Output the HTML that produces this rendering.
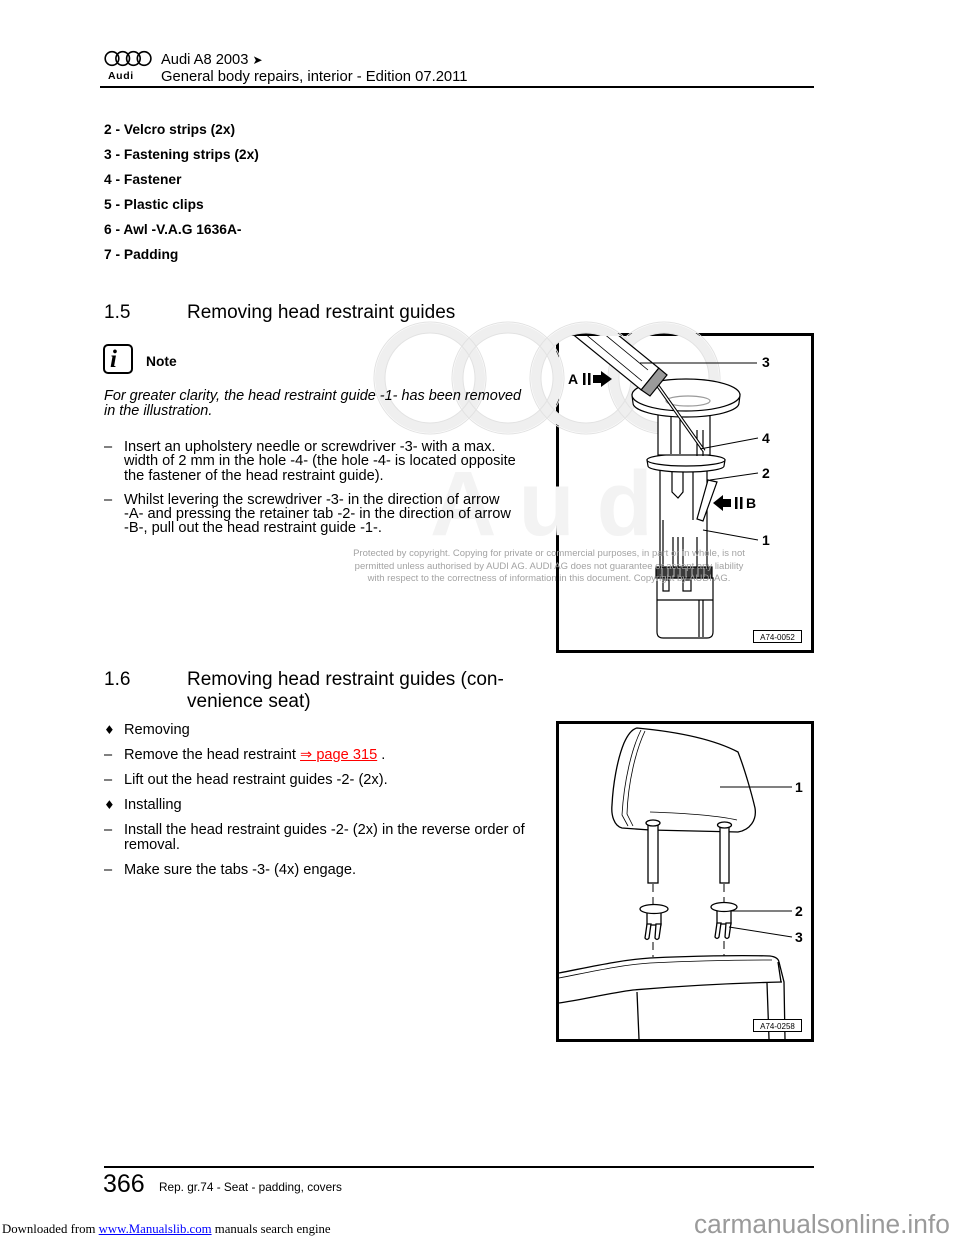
<!DOCTYPE html>
<html><head><meta charset="utf-8"><style>
html,body{margin:0;padding:0;background:#fff}
body{width:960px;height:1242px;position:relative;overflow:hidden;font-family:"Liberation Sans",Arial,sans-serif;color:#000}
.t{position:absolute;white-space:nowrap;line-height:1;font-size:14.6px}
.b{font-weight:bold}
.l{font-weight:bold;font-size:13.8px}
.h{font-size:19px}
.i{font-style:italic;font-size:14.45px}
.cp{position:absolute;left:299px;width:500px;text-align:center;white-space:nowrap;line-height:1;font-size:9.5px;color:#a3a3a3}
a{color:#f00;text-decoration:underline}
</style></head><body>

<svg width="960" height="1242" style="position:absolute;left:0;top:0" xmlns="http://www.w3.org/2000/svg">
<defs><clipPath id="c1"><rect x="559" y="336" width="252" height="314"/></clipPath></defs>
<!-- header rings -->
<g fill="none" stroke="#000" stroke-width="1.6">
<circle cx="112" cy="58.5" r="6.8"/><circle cx="122.7" cy="58.5" r="6.8"/><circle cx="133.4" cy="58.5" r="6.8"/><circle cx="144.1" cy="58.5" r="6.8"/>
</g>
<rect x="100" y="86" width="714" height="2" fill="#000"/>
<rect x="104" y="1166" width="710" height="2" fill="#000"/>

<!-- figure frames -->
<rect x="557.5" y="334.5" width="255" height="317" fill="#fff" stroke="#000" stroke-width="3"/>
<rect x="557.5" y="722.5" width="255" height="318" fill="#fff" stroke="#000" stroke-width="3"/>

<!-- watermark rings -->
<g fill="none" stroke="#efefef" stroke-width="10">
<circle cx="430" cy="378" r="50"/><circle cx="508" cy="378" r="50"/><circle cx="586" cy="378" r="50"/><circle cx="664" cy="378" r="50"/>
</g>
<g fill="none" stroke="#e2e2e2" stroke-width="1">
<circle cx="430" cy="378" r="56"/><circle cx="508" cy="378" r="56"/><circle cx="586" cy="378" r="56"/><circle cx="664" cy="378" r="56"/>
<circle cx="430" cy="378" r="45"/><circle cx="508" cy="378" r="45"/><circle cx="586" cy="378" r="45"/><circle cx="664" cy="378" r="45"/>
</g>
<text x="430" y="535" font-family="Liberation Sans, sans-serif" font-weight="bold" font-size="92" fill="#f3f3f3" letter-spacing="22">Audi</text>

<!-- FIGURE 1 -->
<g stroke="#000" stroke-width="1.2" fill="#fff" clip-path="url(#c1)">
<path d="M657,578 L657,632 Q657,638 663,638 L707,638 Q713,638 713,632 L713,578 Z"/>
<path d="M657,600 L713,600 M699,600 L699,637 M703,600 L703,637" fill="none"/>
<rect x="660" y="466" width="47" height="102"/>
<path d="M672,467 L672,492 L678,498 L683,492 L683,467 M693,467 L693,520 M673,537 L673,567 M678,537 L678,567 M683,537 L683,567 M697,537 L697,567 M663,520 L663,566" fill="none"/>
<rect x="656" y="567" width="56" height="11" fill="#3a3a3a"/>
<path d="M662,568 L662,577 M668,568 L668,577 M674,568 L674,577 M680,568 L680,577 M686,568 L686,577 M692,568 L692,577 M698,568 L698,577 M704,568 L704,577" stroke="#bbb" stroke-width="1"/>
<rect x="663" y="580" width="6" height="11"/><rect x="683" y="580" width="8" height="11"/>
<path d="M708,480 L717,482 L703,521 L697,519 Z"/>
<path d="M647,460 L648,466 A38,6 0 0 0 724,466 L725,460 Z"/>
<ellipse cx="686" cy="460" rx="39" ry="6"/>
<rect x="658" y="405" width="52" height="50"/>
<path d="M671,410 L671,454 M680,410 L680,454 M697,430 L697,456 M703,430 L703,456" fill="none"/>
<path d="M632,395 L633,403 A53,14 0 0 0 739,403 L740,395 Z"/>
<ellipse cx="686" cy="395" rx="54" ry="16"/>
<ellipse cx="688" cy="401" rx="22" ry="5" stroke="#999" fill="none"/>
<line x1="658" y1="386" x2="704" y2="451" stroke="#000" stroke-width="3.5"/>
<line x1="658" y1="386" x2="704" y2="451" stroke="#fff" stroke-width="1.4"/>
<path d="M583.8,307.1 L658.8,368.1 L641.2,389.9 L566.2,328.9 Z"/>
<path d="M586,319 L648,370 M578,328 L642,381" fill="none" stroke-width="0.8"/>
<path d="M658.8,368.1 L667,375 L650,396 L641.2,389.9 Z" fill="#9a9a9a"/>
</g>
<g stroke="#000" stroke-width="1" fill="none">
<path d="M640,363 L757,363 M700,449 L758,438 M710,480 L758,473 M703,530 L758,540"/>
</g>
<g fill="#000">
<rect x="583" y="373" width="2.5" height="12"/><rect x="588" y="373" width="2.5" height="12"/>
<path d="M593,375 L601,375 L601,371 L612,379 L601,387 L601,383 L593,383 Z"/>
<path d="M713,503 L723,495 L723,499 L731,499 L731,507 L723,507 L723,511 Z"/>
<rect x="735" y="497" width="2.5" height="12"/><rect x="740" y="497" width="2.5" height="12"/>
</g>
<g font-family="Liberation Sans, sans-serif" font-weight="bold" font-size="14" fill="#000">
<text x="568" y="384">A</text><text x="746" y="508">B</text>
<text x="762" y="367">3</text><text x="762" y="443">4</text><text x="762" y="478">2</text><text x="762" y="545">1</text>
</g>
<rect x="753.5" y="630.5" width="48" height="12" fill="#fff" stroke="#000" stroke-width="1"/>
<text x="777.5" y="640" text-anchor="middle" font-family="Liberation Sans, sans-serif" font-size="8" fill="#000">A74-0052</text>

<!-- FIGURE 2 -->
<g stroke="#000" stroke-width="1.3" fill="none">
<path d="M559,973 C590,967 620,960 650,958 C690,956 740,955 770,956 Q778,957 779,962 L784,982 L785,1039"/>
<path d="M559,978 C590,972 620,965 650,963 C690,961 740,960 772,960" stroke-width="0.8"/>
<path d="M559,1003 C580,1000 610,993 633,990 C680,986 740,983 782,982"/>
<path d="M637,992 L639,1039 M767,983 L769,1039 M778,962 L781,982"/>
</g>
<g stroke="#000" stroke-width="1.3" fill="#fff">
<path d="M637,728 C680,732 715,740 738,752 C745,770 752,795 755,808 C757,820 750,830 738,832 L650,830 L622,828 C614,826 611,815 612,805 C613,785 617,760 624,743 C628,734 632,729 637,728 Z"/>
<path d="M641,730 C632,748 624,780 622,815 L628,826 M645,731 C636,750 628,782 627,814 L633,826 M650,812 C680,813 715,815 737,820" fill="none" stroke-width="0.8"/>
<rect x="648" y="822" width="10" height="61"/><rect x="720" y="824" width="9" height="59"/>
<ellipse cx="653" cy="823" rx="7" ry="3"/><ellipse cx="724.5" cy="825" rx="7" ry="3"/>
<rect x="647" y="911" width="14" height="14"/>
<path d="M647,924 L645,938 Q647,941 649,938 L651,924 Z M656,924 L655,938 Q657,941 659,938 L661,924 Z"/>
<ellipse cx="654" cy="909" rx="14" ry="4.5"/>
<rect x="717" y="910" width="14" height="14"/>
<path d="M717,923 L715,937 Q717,940 719,937 L721,923 Z M726,923 L725,937 Q727,940 729,937 L731,923 Z"/>
<ellipse cx="724" cy="907" rx="13" ry="4.5"/>
</g>
<g stroke="#000" stroke-width="1" fill="none" stroke-dasharray="8,5">
<path d="M653,884 L653,904 M653,942 L653,957 M724,884 L724,903 M724,941 L724,956"/>
</g>
<g stroke="#000" stroke-width="1" fill="none">
<path d="M720,787 L792,787 M729,911 L792,911 M729,927 L792,937"/>
</g>
<g font-family="Liberation Sans, sans-serif" font-weight="bold" font-size="14" fill="#000">
<text x="795" y="792">1</text><text x="795" y="916">2</text><text x="795" y="942">3</text>
</g>
<rect x="753.5" y="1019.5" width="48" height="12" fill="#fff" stroke="#000" stroke-width="1"/>
<text x="777.5" y="1029" text-anchor="middle" font-family="Liberation Sans, sans-serif" font-size="8" fill="#000">A74-0258</text>

<!-- note icon -->
<rect x="104" y="345" width="28" height="28" rx="4" fill="none" stroke="#000" stroke-width="2"/>
</svg>

<!-- header -->
<div class="t b" style="left:108px;top:71px;font-size:10.5px;letter-spacing:0.6px">Audi</div>
<div class="t" style="left:161px;top:52.5px;font-size:14.7px">Audi A8 2003 <span style="font-family:'DejaVu Sans',sans-serif;font-size:12px">➤</span></div>
<div class="t" style="left:161px;top:70px;font-size:14.8px">General body repairs, interior - Edition 07.2011</div>

<!-- list -->
<div class="t l" style="left:104px;top:123px">2 - Velcro strips (2x)</div>
<div class="t l" style="left:104px;top:148px">3 - Fastening strips (2x)</div>
<div class="t l" style="left:104px;top:173px">4 - Fastener</div>
<div class="t l" style="left:104px;top:198px">5 - Plastic clips</div>
<div class="t l" style="left:104px;top:223px">6 - Awl -V.A.G 1636A-</div>
<div class="t l" style="left:104px;top:248px">7 - Padding</div>

<!-- 1.5 -->
<div class="t h" style="left:104px;top:303px">1.5</div>
<div class="t h" style="left:187px;top:303px">Removing head restraint guides</div>
<div class="t" style="left:110px;top:347px;font-family:'Liberation Serif',serif;font-weight:bold;font-style:italic;font-size:25px">i</div>
<div class="t l" style="left:146px;top:355px">Note</div>
<div class="t i" style="left:104px;top:388.5px">For greater clarity, the head restraint guide -1- has been removed</div>
<div class="t i" style="left:104px;top:403.5px">in the illustration.</div>

<div class="t" style="left:104px;top:439.5px">–</div>
<div class="t" style="left:124px;top:439.5px">Insert an upholstery needle or screwdriver -3- with a max.</div>
<div class="t" style="left:124px;top:454px">width of 2 mm in the hole -4- (the hole -4- is located opposite</div>
<div class="t" style="left:124px;top:468.5px">the fastener of the head restraint guide).</div>
<div class="t" style="left:104px;top:492.5px">–</div>
<div class="t" style="left:124px;top:492.5px">Whilst levering the screwdriver -3- in the direction of arrow</div>
<div class="t" style="left:124px;top:506.5px">-A- and pressing the retainer tab -2- in the direction of arrow</div>
<div class="t" style="left:124px;top:520.5px">-B-, pull out the head restraint guide -1-.</div>

<div class="cp" style="top:549px">Protected by copyright. Copying for private or commercial purposes, in part or in whole, is not</div>
<div class="cp" style="top:561.5px">permitted unless authorised by AUDI AG. AUDI AG does not guarantee or accept any liability</div>
<div class="cp" style="top:573.5px">with respect to the correctness of information in this document. Copyright by AUDI AG.</div>

<!-- 1.6 -->
<div class="t h" style="left:104px;top:669.5px">1.6</div>
<div class="t h" style="left:187px;top:669.5px">Removing head restraint guides (con-</div>
<div class="t h" style="left:187px;top:691.5px">venience seat)</div>

<div class="t" style="left:104px;top:724px;font-family:'DejaVu Sans',sans-serif;font-size:12px">♦</div>
<div class="t" style="left:124px;top:723px">Removing</div>
<div class="t" style="left:104px;top:747.5px">–</div>
<div class="t" style="left:124px;top:747.5px">Remove the head restraint <a>⇒ page 315</a> .</div>
<div class="t" style="left:104px;top:772.5px">–</div>
<div class="t" style="left:124px;top:772.5px">Lift out the head restraint guides -2- (2x).</div>
<div class="t" style="left:104px;top:799px;font-family:'DejaVu Sans',sans-serif;font-size:12px">♦</div>
<div class="t" style="left:124px;top:798px">Installing</div>
<div class="t" style="left:104px;top:823px">–</div>
<div class="t" style="left:124px;top:823px">Install the head restraint guides -2- (2x) in the reverse order of</div>
<div class="t" style="left:124px;top:837.5px">removal.</div>
<div class="t" style="left:104px;top:863px">–</div>
<div class="t" style="left:124px;top:863px">Make sure the tabs -3- (4x) engage.</div>

<!-- footer -->
<div class="t" style="left:103px;top:1172px;font-size:25px">366</div>
<div class="t" style="left:159px;top:1182px;font-size:11.8px">Rep. gr.74 - Seat - padding, covers</div>

<div class="t" style="left:2px;top:1223px;font-family:'Liberation Serif',serif;font-size:12.8px">Downloaded from <span style="color:#00f;text-decoration:underline">www.Manualslib.com</span> manuals search engine</div>
<div class="t" style="left:694px;top:1211px;font-size:26.3px;color:#9a9a9a">carmanualsonline.info</div>
</body></html>
